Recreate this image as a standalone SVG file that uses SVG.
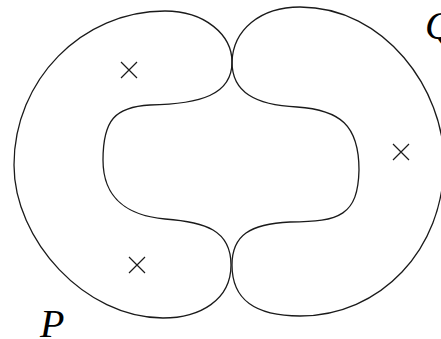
<svg xmlns="http://www.w3.org/2000/svg" width="441" height="339" viewBox="0 0 441 339">
<style>
.shape{fill:none;stroke:#1a1a1a;stroke-width:1.3}
.cross{stroke:#1a1a1a;stroke-width:1.2}
.lbl{font-family:"Liberation Serif",serif;font-style:italic;font-size:40px;fill:#000}
</style>
<rect width="441" height="339" fill="#fff"/>
<g id="P">
<path class="shape" d="M232,62 C232,35 205,11 165,11 C82,11 14,80 14,165 C14,240 85,318 163,318 C200,318 231,300 231,265 C231,230 205,222 165,219 C130,216 103,200 103,160 C103,120 115,107 150,105 C200,104 232,95 232,62 Z"/>
<text class="lbl" x="40" y="337">P</text>
</g>
<g id="Q">
<path class="shape" d="M232,62 C233,30 260,7 300,7 C385,7 444,90 444,162 C444,250 380,316 300,316 C255,316 232,300 232,265 C232,235 250,224 290,222 C340,222 358,215 359,170 C359,125 340,110 297,107 C255,105 232,92 232,62 Z"/>
<text class="lbl" x="425" y="39">Q</text>
</g>
<g id="crosses">
<path class="cross" d="M121,62 L137,78 M137,62 L121,78"/>
<path class="cross" d="M129,257 L145,273 M145,257 L129,273"/>
<path class="cross" d="M393,144 L409,160 M409,144 L393,160"/>
</g>
</svg>
